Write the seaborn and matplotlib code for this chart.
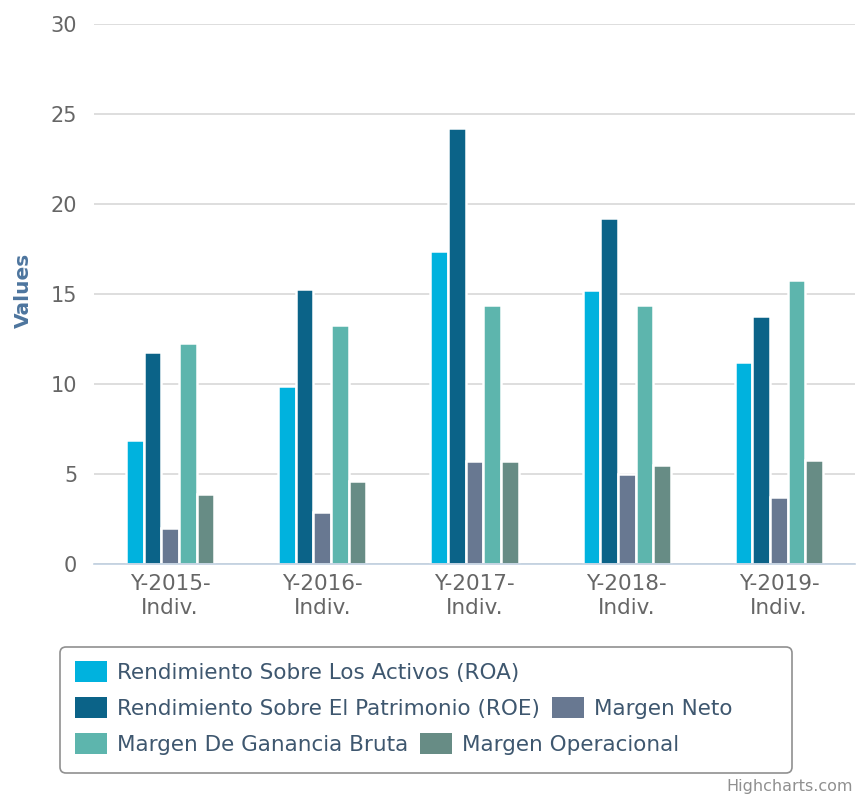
import matplotlib
matplotlib.use("Agg")
import matplotlib.pyplot as plt
import matplotlib.transforms as mtrans
from matplotlib.patches import FancyBboxPatch, Patch
import seaborn as sns
import pandas as pd

categories = ["Y-2015-\nIndiv.", "Y-2016-\nIndiv.", "Y-2017-\nIndiv.", "Y-2018-\nIndiv.", "Y-2019-\nIndiv."]
series_names = [
    "Rendimiento Sobre Los Activos (ROA)",
    "Rendimiento Sobre El Patrimonio (ROE)",
    "Margen Neto",
    "Margen De Ganancia Bruta",
    "Margen Operacional",
]
roa = [6.9, 9.9, 17.4, 15.2, 11.2]
roe = [11.8, 15.3, 24.2, 19.2, 13.8]
margen_neto = [2.0, 2.9, 5.7, 5.0, 3.7]
margen_bruta = [12.3, 13.3, 14.4, 14.4, 15.8]
margen_operacional = [3.9, 4.6, 5.7, 5.5, 5.8]
colors = ["#00B2DE", "#0B6388", "#687891", "#5DB5AD", "#678C85"]
yticks = [0, 5, 10, 15, 20, 25, 30]

values = [roa, roe, margen_neto, margen_bruta, margen_operacional]
rows = []
for name, vals in zip(series_names, values):
    for cat, v in zip(categories, vals):
        rows.append({"Category": cat, "Series": name, "Value": v})
df = pd.DataFrame(rows)

sns.set_theme(style="white")
plt.rcParams["font.family"] = ["DejaVu Sans"]

W, H = 857, 799
FS = 15.5
fig = plt.figure(figsize=(W / 100, H / 100), dpi=100)
ax = fig.add_axes([94 / W, (H - 564) / H, (855 - 94) / W, 540 / H])

sns.barplot(data=df, x="Category", y="Value", hue="Series", order=categories,
            hue_order=series_names, palette=colors, saturation=1, width=0.58,
            edgecolor="white", linewidth=1.8, ax=ax, legend=False)

ax.set_xlim(-0.5, len(categories) - 0.5)
ax.set_ylim(0, 30)
ax.set_yticks(yticks)
ax.set_yticklabels([str(t) for t in yticks])
ax.yaxis.grid(True, color="#D8D8D8", linewidth=1.2)
ax.set_axisbelow(True)
for s in ["top", "right", "left"]:
    ax.spines[s].set_visible(False)
ax.spines["bottom"].set_color("#C0D0E0")
ax.spines["bottom"].set_linewidth(1.2)
ax.tick_params(axis="y", length=0, pad=12, labelsize=FS - 0.5, labelcolor="#666666")
ax.tick_params(axis="x", which="major", length=0, pad=7, labelsize=FS, labelcolor="#666666")
for t in ax.get_xticklabels():
    t.set_linespacing(1.25)
ax.set_xticks([i - 0.5 for i in range(len(categories) + 1)], minor=True)
ax.tick_params(axis="x", which="minor", length=7, width=1.2, color="#C0D0E0", direction="out")
ax.set_xlabel("")
ax.set_ylabel("Values", fontsize=14.5, fontweight="bold", color="#4D759E")
ax.yaxis.set_label_coords(-(94 - 33) / (855 - 94), (564 - 290) / 540)

hmap = {n: Patch(facecolor=c, edgecolor="none") for n, c in zip(series_names, colors)}

legend_rows = [
    ([series_names[0]], 672),
    ([series_names[1], series_names[2]], 708),
    ([series_names[3], series_names[4]], 744),
]
for names, ypix in legend_rows:
    leg = fig.legend([hmap[n] for n in names], names, loc="center left",
                     bbox_to_anchor=(75 / W, 1 - ypix / H), bbox_transform=fig.transFigure,
                     ncol=len(names), frameon=False, borderpad=0, borderaxespad=0,
                     handlelength=1.5, handleheight=1.1, handletextpad=0.45,
                     columnspacing=0.55, fontsize=FS)
    for t in leg.get_texts():
        t.set_color("#3E576F")

frame = FancyBboxPatch((60, H - 773), 792 - 60, 773 - 647,
                       boxstyle="round,pad=0,rounding_size=6",
                       transform=mtrans.IdentityTransform(),
                       facecolor="none", edgecolor="#909090", linewidth=1.2)
fig.patches.append(frame)

fig.text(853 / W, 1 - 787 / H, "Highcharts.com", ha="right", va="center",
         fontsize=11.5, color="#909090")

fig.savefig("out.png", dpi=100)
